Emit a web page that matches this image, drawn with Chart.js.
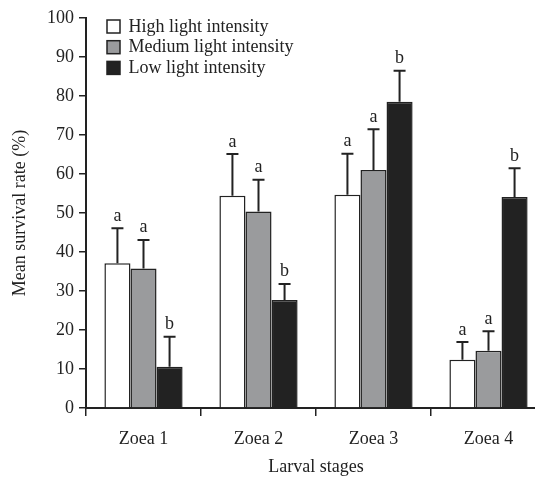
<!DOCTYPE html>
<html>
<head>
<meta charset="utf-8">
<script src="https://cdn.jsdelivr.net/npm/chart.js@4"></script>
<style>
  html, body { margin: 0; padding: 0; background: #fff; overflow: hidden; }
  #wrap { width: 535px; height: 478px; overflow: hidden; }
</style>
</head>
<body>
<div id="wrap"><canvas id="myChart" width="546" height="478"></canvas></div>
<script>
// Categories
const stages = ['Zoea 1', 'Zoea 2', 'Zoea 3', 'Zoea 4'];

// Mean survival (%) per light intensity
const highMean = [37.1, 54.4, 54.7, 12.4];
const mediumMean = [35.8, 50.4, 61.0, 14.7];
const lowMean = [10.6, 27.7, 78.5, 54.1];

// Upper error bar length (SD)
const highErr = [9.0, 10.7, 10.5, 4.5];
const mediumErr = [7.3, 8.1, 10.5, 5.0];
const lowErr = [7.7, 4.1, 8.0, 7.4];

// Significance letters
const highLetters = ['a', 'a', 'a', 'a'];
const mediumLetters = ['a', 'a', 'a', 'a'];
const lowLetters = ['b', 'b', 'b', 'b'];

const yTicks = [0, 100, 10]; // min, max, step

const serif = 'Liberation Serif';
const ink = '#222222';

const data = {
    labels: stages,
    datasets: [
        { label: 'High light intensity', data: highMean, err: highErr, letters: highLetters,
          backgroundColor: '#ffffff', borderColor: ink, borderWidth: 1.5 },
        { label: 'Medium light intensity', data: mediumMean, err: mediumErr, letters: mediumLetters,
          backgroundColor: '#9a9b9d', borderColor: ink, borderWidth: 1.5 },
        { label: 'Low light intensity', data: lowMean, err: lowErr, letters: lowLetters,
          backgroundColor: '#222222', borderColor: ink, borderWidth: 1.5 }
    ]
};

// error bars (upper only) + letters
const errorBars = {
    id: 'errorBars',
    afterDatasetsDraw(chart) {
        const ctx = chart.ctx;
        const y = chart.scales.y;
        ctx.save();
        ctx.strokeStyle = ink;
        ctx.lineWidth = 2;
        ctx.fillStyle = ink;
        ctx.font = '18px "' + serif + '"';
        ctx.textAlign = 'center';
        ctx.textBaseline = 'alphabetic';
        chart.data.datasets.forEach((ds, i) => {
            const meta = chart.getDatasetMeta(i);
            meta.data.forEach((bar, j) => {
                const top = y.getPixelForValue(ds.data[j]);
                const hi = y.getPixelForValue(ds.data[j] + ds.err[j]);
                ctx.beginPath();
                ctx.moveTo(bar.x, top);
                ctx.lineTo(bar.x, hi);
                ctx.moveTo(bar.x - 6, hi);
                ctx.lineTo(bar.x + 6, hi);
                ctx.stroke();
                ctx.fillText(ds.letters[j], bar.x, hi - 7.5);
            });
        });
        ctx.restore();
    }
};

// legend stacked inside the plot, top left
const boxLegend = {
    id: 'boxLegend',
    afterDraw(chart) {
        const ctx = chart.ctx;
        const area = chart.chartArea;
        ctx.save();
        ctx.font = '18px "' + serif + '"';
        ctx.textBaseline = 'middle';
        ctx.textAlign = 'left';
        chart.data.datasets.forEach((ds, i) => {
            const bx = area.left + 21;
            const by = area.top + 2 + i * 20.7;
            ctx.fillStyle = ds.backgroundColor;
            ctx.fillRect(bx, by, 13, 13);
            ctx.strokeStyle = ink;
            ctx.lineWidth = 1.5;
            ctx.strokeRect(bx, by, 13, 13);
            ctx.fillStyle = ink;
            ctx.fillText(ds.label, bx + 21.5, by + 7);
        });
        ctx.restore();
    }
};

const config = {
    type: 'bar',
    data: data,
    options: {
        responsive: false,
        animation: false,
        layout: { padding: { top: 18, left: 0, right: 0, bottom: 0 } },
        datasets: { bar: { categoryPercentage: 0.68, barPercentage: 1 } },
        plugins: {
            legend: { display: false },
            tooltip: { enabled: false }
        },
        scales: {
            x: {
                offset: true,
                afterFit: s => { s.height = 70; },
                border: { color: ink, width: 2 },
                grid: { drawOnChartArea: false, color: ink, lineWidth: 1.5, tickLength: 8, offset: true },
                ticks: { color: ink, padding: 12, font: { family: serif, size: 18 } },
                title: { display: true, text: 'Larval stages', color: ink,
                         font: { family: serif, size: 18 }, padding: { top: 0, bottom: 0 } }
            },
            y: {
                min: yTicks[0],
                max: yTicks[1],
                afterFit: s => { s.width = 86; },
                border: { color: ink, width: 2 },
                grid: { drawOnChartArea: false, color: ink, lineWidth: 1.5, tickLength: 7 },
                ticks: { stepSize: yTicks[2], color: ink, padding: 5, font: { family: serif, size: 18 } },
                title: { display: true, text: 'Mean survival rate (%)', color: ink,
                         font: { family: serif, size: 18 }, padding: { top: 9.5, bottom: 0 } }
            }
        }
    },
    plugins: [errorBars, boxLegend]
};

const ctx = document.getElementById('myChart').getContext('2d');
new Chart(ctx, config);
</script>
</body>
</html>
